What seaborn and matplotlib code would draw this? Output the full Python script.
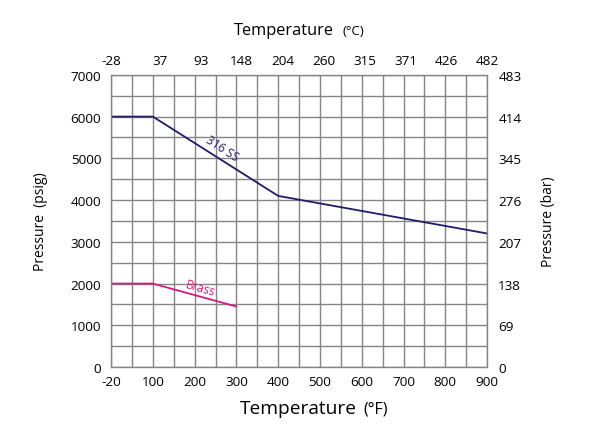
"""
Pressure / temperature rating chart for 316 SS and brass fittings.
Bottom/left axes in imperial units, top/right in metric.
"""
import matplotlib
matplotlib.use("Agg")
import matplotlib.pyplot as plt
import numpy as np
import pandas as pd
import seaborn as sns

# --- data ---
F_TICKS = [-20, 100, 200, 300, 400, 500, 600, 700, 800, 900]
C_LABELS = ["-28", "37", "93", "148", "204", "260", "315", "371", "426", "482"]
PSIG_TICKS = [0, 1000, 2000, 3000, 4000, 5000, 6000, 7000]
BAR_LABELS = ["0", "69", "138", "207", "276", "345", "414", "483"]

ss_temp_f = [-20, 100, 400, 900]
ss_psig = [6000, 6000, 4100, 3200]
brass_temp_f = [-20, 100, 300]
brass_psig = [2000, 2000, 1450]

NAVY = "#1d1d6b"
MAGENTA = "#d41b7c"
GRID = "#858585"


def fwd(x):
    # first interval (-20..100) is drawn the same width as the 100 F steps
    x = np.asarray(x, dtype=float)
    return np.where(x < 100, (x - 100) / 120 + 1, x / 100)


def inv(p):
    p = np.asarray(p, dtype=float)
    return np.where(p < 1, (p - 1) * 120 + 100, p * 100)


def main():
    df = pd.concat([
        pd.DataFrame({"temp_f": ss_temp_f, "psig": ss_psig, "alloy": "316 SS"}),
        pd.DataFrame({"temp_f": brass_temp_f, "psig": brass_psig, "alloy": "Brass"}),
    ])

    sns.set_theme(style="white", rc={"text.color": "black", "axes.labelcolor": "black",
                                     "xtick.color": "black", "ytick.color": "black"})
    plt.rcParams["font.family"] = ["Open Sans", "DejaVu Sans"]

    fig = plt.figure(figsize=(5.97, 4.31), dpi=100)
    ax = fig.add_axes([0.186, 0.146, 0.630, 0.678])
    ax.set_xscale("function", functions=(fwd, inv))

    sns.lineplot(data=df, x="temp_f", y="psig", hue="alloy",
                 palette={"316 SS": NAVY, "Brass": MAGENTA},
                 linewidth=1.3, legend=False, ax=ax, sort=False)

    ax.set_xlim(-20, 900)
    ax.set_ylim(0, 7000)
    ax.set_xticks(F_TICKS, labels=[str(t) for t in F_TICKS])
    mids = [(a + b) / 2 for a, b in zip(F_TICKS[:-1], F_TICKS[1:])]
    ax.set_xticks(mids, minor=True)
    ax.set_yticks(PSIG_TICKS)
    ax.set_yticks(np.arange(500, 7000, 1000), minor=True)
    ax.grid(which="both", color=GRID, linewidth=1.0)
    ax.set_axisbelow(True)
    for s in ax.spines.values():
        s.set_color(GRID)
        s.set_linewidth(1.0)
    ax.tick_params(which="both", length=0, labelsize=9.7, colors="black", pad=7)
    ax.tick_params(axis="x", pad=6)
    ax.set_xlabel("")
    ax.set_ylabel("Pressure  (psig)", fontsize=10, labelpad=16)

    top = ax.secondary_xaxis("top", functions=(lambda x: x, lambda x: x))
    top.set_xticks(F_TICKS, labels=C_LABELS)
    top.tick_params(length=0, labelsize=9.7, pad=6)
    for s in top.spines.values():
        s.set_visible(False)

    right = ax.secondary_yaxis("right", functions=(lambda y: y, lambda y: y))
    right.set_yticks(PSIG_TICKS, labels=BAR_LABELS)
    right.tick_params(length=0, labelsize=9.7, pad=8)
    right.set_ylabel("Pressure (bar)", fontsize=10, labelpad=14)
    for s in right.spines.values():
        s.set_visible(False)

    # axis titles with the smaller unit part
    fig.text(0.402, 0.040, "Temperature", fontsize=13.8, va="baseline")
    fig.text(0.608, 0.040, "(°F)", fontsize=11.5, va="baseline")
    fig.text(0.392, 0.918, "Temperature", fontsize=11.8, va="baseline")
    fig.text(0.574, 0.918, "(°C)", fontsize=9.5, va="baseline")

    # in-line series labels
    ax.text(266, 5250, "316 SS", color=NAVY, fontsize=8.5, rotation=-33,
            ha="center", va="center", rotation_mode="anchor")
    ax.text(213, 1890, "Brass", color=MAGENTA, fontsize=8.5, rotation=-16,
            ha="center", va="center", rotation_mode="anchor")

    fig.savefig("out.png", dpi=100, facecolor="white")
    plt.close(fig)


if __name__ == "__main__":
    main()
